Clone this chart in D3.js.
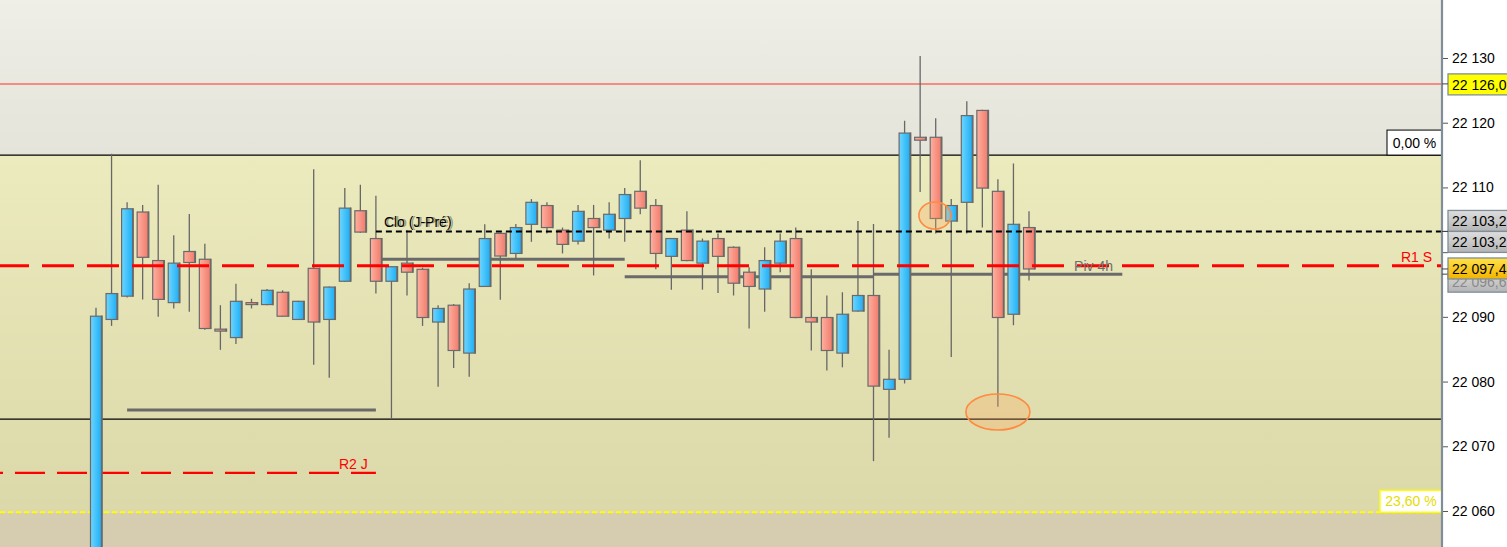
<!DOCTYPE html>
<html><head><meta charset="utf-8">
<script src="https://cdn.jsdelivr.net/npm/d3@7"></script>
<style>
body{margin:0;background:#fff;overflow:hidden}
svg{display:block}
text{font-family:"Liberation Sans",Arial,sans-serif}
</style>
</head><body>
<svg id="c" width="1507" height="547"></svg>
<script>
// ---------- DATA ----------
const opens  = [22052,22089.6,22093.2,22106.2,22098.7,22092.2,22100.1,22098.9,22088.1,22086.8,22092.2,22091.9,22093.8,22089.6,22097.5,22089.6,22095.5,22106.4,22102.1,22095.5,22098.3,22097.35,22089.2,22091.8,22084.4,22094.7,22102.9,22099.8,22104.3,22107.2,22103.4,22101.7,22105.2,22103.4,22105.2,22109.4,22107.2,22099.35,22103.4,22098.3,22102.1,22100.75,22096.9,22094.3,22098.3,22102.1,22089.9,22089.9,22084.4,22090.9,22093.3,22078.8,22080.35,22117.75,22117.75,22104.8,22107.7,22121.9,22109.4,22090.4,22103.8];
const highs  = [22091.4,22115.2,22107.7,22107.3,22110.4,22102.6,22105.9,22101.3,22091.8,22095.1,22092.8,22094.3,22094.1,22092.5,22112.8,22094.7,22109.9,22110.4,22108.7,22097.8,22103.4,22097.6,22091.8,22092.0,22095.2,22104.3,22103.0,22104.35,22108.2,22107.7,22103.8,22107.3,22107.3,22107.7,22109.9,22114.2,22108.2,22102.2,22106.3,22102.1,22102.9,22100.9,22097.65,22100.75,22102.9,22103.8,22097.35,22093.3,22093.8,22104.8,22104.35,22084.9,22120.3,22130.3,22120.7,22108.2,22123.3,22122.0,22111.25,22113.7,22106.3];
const lows   = [22048,22088.6,22093.0,22092.7,22090.0,22091.3,22090.8,22088.0,22084.9,22085.8,22091.3,22091.8,22090.0,22089.5,22082.6,22080.6,22095.4,22103.0,22093.6,22074.2,22093.3,22088.6,22079.2,22082.1,22080.75,22094.6,22092.65,22099.0,22101.6,22102.9,22099.8,22101.2,22096.4,22102.1,22101.6,22105.85,22097.35,22094.2,22098.6,22094.2,22093.7,22093.3,22088.2,22090.8,22096.9,22089.8,22084.8,22081.7,22082.2,22090.8,22067.7,22071.3,22079.7,22109.3,22102.9,22083.8,22102.9,22103.8,22076.1,22088.7,22095.6];
const closes = [22090.1,22093.6,22106.7,22099.2,22092.7,22098.3,22098.4,22088.2,22087.8,22092.4,22091.9,22094.1,22090.1,22092.4,22089.2,22094.6,22106.8,22103.1,22095.5,22097.75,22096.9,22089.9,22091.3,22084.8,22094.3,22102.1,22099.4,22103.8,22107.7,22103.8,22101.2,22106.3,22103.8,22105.85,22108.9,22106.8,22099.8,22102.1,22098.7,22101.7,22099.35,22095.2,22094.7,22098.7,22101.7,22089.9,22089.2,22084.8,22090.4,22093.3,22079.3,22080.35,22118.4,22117.3,22105.2,22107.2,22121.1,22109.9,22089.9,22104.3,22097.4];

const axisTicks = [22060,22070,22080,22090,22100,22110,22120,22130];
const hiddenTickLabels = [22100]; // covered by the price tags in the reference

const fibValues = [22115.0, 22059.8];
const fibLabels = ["0,00 %", "23,60 %"];
const lowLineValue = 22074.2;
const pinkValue = 22126.0;
const cloValue = 22103.2;
const cloStart = 18;
const cloLabel = "Clo (J-Pré)";
const r1Value = 22097.9;
const r1Label = "R1 S";
const r2Value = 22065.9;
const r2End = 18;
const r2Label = "R2 J";

const pivStart  = [2, 18, 34, 50];
const pivEnd    = [18, 34, 50, 66];
const pivValues = [22075.6, 22098.9, 22096.2, 22096.6];
const pivLabel  = "Piv 4h";

const ellipseIdx = [53.95, 58];
const ellipseVal = [22105.66, 22075.3];

const tagValues = [22126.0, 22103.2, 22103.2, 22096.6, 22097.4];
const tagKinds  = ["yellow", "gray", "gray", "grayLight", "gold"];

// ---------- SETUP ----------
const W = 1507, H = 547, axisX = 1442;
const svg = d3.select("#c");
const x = d3.scaleLinear().domain([0, 60]).range([96, 1029]);
const y = d3.scaleLinear().domain([22060, 22130]).range([511, 58]);
const loc = d3.formatLocale({decimal: ",", thousands: " ", grouping: [3], currency: ["", ""]});
const fmtInt = loc.format(",");
const fmt1 = loc.format(",.1f");

const defs = svg.append("defs");
function grad(id, stops, vertical) {
  const g = defs.append("linearGradient").attr("id", id)
    .attr("x1", 0).attr("y1", 0).attr("x2", vertical ? 0 : 1).attr("y2", vertical ? 1 : 0);
  stops.forEach((c, i) => g.append("stop").attr("offset", (i / (stops.length - 1) * 100) + "%").attr("stop-color", c));
}
grad("bgTop", ["#efeee7", "#e5e4da"], true);
grad("bgMid", ["#ecebbd", "#dbd8a9"], true);
grad("up", ["#6dd6ff", "#1eaef4"], false);
grad("dn", ["#ffb0a0", "#f17b6b"], false);
grad("tagGray", ["#dedede", "#b4b4b4"], true);
grad("tagGold", ["#ffe14a", "#f2b400"], true);

defs.append("clipPath").attr("id", "plot").append("rect").attr("x", 0).attr("y", 0).attr("width", axisX).attr("height", H);

// backgrounds
const yTopFib = y(fibValues[0]), yBotFib = y(fibValues[1]);
svg.append("rect").attr("x", 0).attr("y", 0).attr("width", axisX).attr("height", yTopFib).attr("fill", "url(#bgTop)");
svg.append("rect").attr("x", 0).attr("y", yTopFib).attr("width", axisX).attr("height", yBotFib - yTopFib).attr("fill", "url(#bgMid)");
svg.append("rect").attr("x", 0).attr("y", yBotFib).attr("width", axisX).attr("height", H - yBotFib).attr("fill", "#d6cdb0");

const plot = svg.append("g").attr("clip-path", "url(#plot)");

function hline(x1, x2, v, stroke, w, dash, off) {
  const l = plot.append("line").attr("x1", x1).attr("x2", x2).attr("y1", y(v)).attr("y2", y(v))
    .attr("stroke", stroke).attr("stroke-width", w);
  if (dash) l.attr("stroke-dasharray", dash).attr("stroke-dashoffset", off || 0);
  return l;
}
hline(0, axisX, pinkValue, "#f48c86", 2);
hline(0, axisX, fibValues[0], "#000", 1.2);
hline(0, axisX, lowLineValue, "#000", 1.2);
hline(0, axisX, fibValues[1], "#ffff00", 2, "5 3");

pivValues.forEach((v, i) => hline(x(pivStart[i]), x(pivEnd[i]), v, "#6a6a6a", 3));

hline(0, x(r2End), r2Value, "#ff0000", 2.2, "30 12", 27);

// candles
const idx = d3.range(opens.length);
plot.append("g").selectAll("line").data(idx).join("line")
  .attr("x1", i => x(i)).attr("x2", i => x(i))
  .attr("y1", i => y(highs[i])).attr("y2", i => y(lows[i]))
  .attr("stroke", "#676767").attr("stroke-width", 1.3);
const bodies = plot.append("g").selectAll("g").data(idx).join("g");
const bTop = i => y(Math.max(opens[i], closes[i]));
const bH = i => Math.max(1.5, Math.abs(y(opens[i]) - y(closes[i])));
bodies.append("rect")
  .attr("x", i => x(i) - 5.5).attr("width", 11)
  .attr("y", bTop).attr("height", bH)
  .attr("fill", i => closes[i] >= opens[i] ? "url(#up)" : "url(#dn)")
  .attr("stroke", "#6a6a6a").attr("stroke-width", 1.2);
bodies.append("line")
  .attr("x1", i => x(i) + 6).attr("x2", i => x(i) + 6)
  .attr("y1", i => bTop(i) - 0.6)
  .attr("y2", i => bTop(i) + bH(i) + 0.6)
  .attr("stroke", "#6a6a6a").attr("stroke-width", 1.6);

hline(x(cloStart), axisX + 5, cloValue, "#000", 2, "6 4");
hline(0, axisX, r1Value, "#ff0000", 3, "32 13", 3);

const ellR = [[16, 13.5], [32, 18]];
ellipseIdx.forEach((ix, k) => {
  plot.append("ellipse").attr("cx", x(ix)).attr("cy", y(ellipseVal[k]))
    .attr("rx", ellR[k][0]).attr("ry", ellR[k][1])
    .attr("fill", "rgba(255,165,90,0.28)").attr("stroke", "#ff8a40").attr("stroke-width", 1.6);
});

const T = (tx, ty, s, col, size) => svg.append("text").attr("x", tx).attr("y", ty).text(s)
  .attr("fill", col).attr("font-size", size || 14);
T(x(cloStart) + 8, y(cloValue) - 4, cloLabel, "#000", 14);
T(x(cloStart) + 10, y(cloValue) - 4.5, cloLabel, "#000", 14).attr("opacity", 0.35);
T(x(r2End) - 37, y(r2Value) - 4, r2Label, "#ff0000", 14);
T(axisX - 41, y(r1Value) - 4, r1Label, "#ff0000", 14);
T(x(62.9), y(pivValues[3]) - 3, pivLabel, "#6e6e6e", 14);

const fb0 = svg.append("g");
fb0.append("rect").attr("x", axisX - 55).attr("y", yTopFib - 25).attr("width", 55).attr("height", 25)
  .attr("fill", "#fff").attr("stroke", "#000").attr("stroke-width", 1);
fb0.append("text").attr("x", axisX - 27.5).attr("y", yTopFib - 7).attr("text-anchor", "middle")
  .attr("font-size", 14).attr("fill", "#000").text(fibLabels[0]);
const fb1 = svg.append("g");
fb1.append("rect").attr("x", axisX - 62).attr("y", yBotFib - 22).attr("width", 62).attr("height", 22)
  .attr("fill", "#fff").attr("stroke", "#ffff00").attr("stroke-width", 1.5);
fb1.append("text").attr("x", axisX - 31).attr("y", yBotFib - 6).attr("text-anchor", "middle")
  .attr("font-size", 14).attr("fill", "#e6dc00").text(fibLabels[1]);

// axis
svg.append("rect").attr("x", axisX).attr("y", 0).attr("width", W - axisX).attr("height", H).attr("fill", "#fff");
const ax = svg.append("g").attr("transform", `translate(${axisX + 1},0)`)
  .call(d3.axisRight(y).tickValues(axisTicks).tickSize(5).tickPadding(4)
    .tickFormat(d => hiddenTickLabels.includes(d) ? "" : fmtInt(d)));
ax.select(".domain").remove();
ax.selectAll(".tick line").attr("stroke", "#555");
ax.selectAll(".tick text").attr("font-size", 14).attr("fill", "#000")
  .attr("font-family", '"Liberation Sans",Arial,sans-serif');
svg.append("line").attr("x1", axisX).attr("x2", axisX).attr("y1", 0).attr("y2", H)
  .attr("stroke", "#7f8e99").attr("stroke-width", 2.2);

// price tags
const tagOffsets = [-10, -21, 0, -3, -11];
const tagFill = {yellow: "#ffff00", gray: "url(#tagGray)", grayLight: "url(#tagGray)", gold: "url(#tagGold)"};
const tagText = {yellow: "#000", gray: "#000", grayLight: "#8a8a8a", gold: "#000"};
tagValues.forEach((v, k) => {
  const top = y(v) + tagOffsets[k];
  const g = svg.append("g");
  g.append("rect").attr("x", axisX + 6).attr("y", top).attr("width", 80).attr("height", 21)
    .attr("fill", tagFill[tagKinds[k]]).attr("stroke", "#7f8e99").attr("stroke-width", 1.3);
  g.append("text").attr("x", axisX + 10).attr("y", top + 16).attr("font-size", 14)
    .attr("fill", tagText[tagKinds[k]]).text(fmt1(v));
  svg.append("line").attr("x1", axisX).attr("x2", axisX + 6).attr("y1", y(v)).attr("y2", y(v))
    .attr("stroke", "#444").attr("stroke-width", 1);
});
</script>
</body></html>
